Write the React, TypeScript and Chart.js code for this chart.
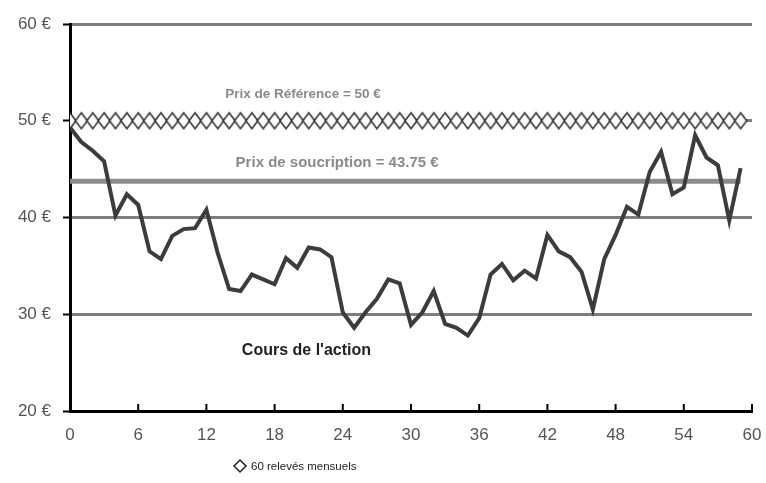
import React, { useEffect, useRef } from "react";
import { Chart, registerables } from "chart.js";

Chart.register(...registerables);

const monthIndex: number[] = Array.from({ length: 60 }, (_, i) => i);
const coursValues: number[] = [
  49.3, 47.8, 46.9, 45.8, 40.2, 42.4, 41.3, 36.5, 35.7, 38.1,
  38.8, 38.9, 40.8, 36.3, 32.6, 32.4, 34.1, 33.6, 33.1, 35.8,
  34.8, 36.9, 36.7, 35.9, 30.2, 28.6, 30.2, 31.6, 33.6, 33.2,
  28.9, 30.2, 32.4, 29.0, 28.6, 27.8, 29.6, 34.1, 35.2, 33.5,
  34.5, 33.7, 38.2, 36.5, 35.9, 34.4, 30.5, 35.7, 38.2, 41.1,
  40.3, 44.7, 46.8, 42.4, 43.1, 48.5, 46.2, 45.4, 39.7, 45.1,
];
const prixReference = 50;
const prixSouscription = 43.75;
const yTicks: number[] = [20, 30, 40, 50, 60];
const xTicks: number[] = [0, 6, 12, 18, 24, 30, 36, 42, 48, 54, 60];

const labelReference = "Prix de Référence = 50 €";
const labelSouscription = "Prix de soucription = 43.75 €";
const labelCours = "Cours de l'action";
const labelLegend = "60 relevés mensuels";

function makeDiamond(w: number, h: number): HTMLCanvasElement {
  const c = document.createElement("canvas");
  c.width = w + 4;
  c.height = h + 4;
  const g = c.getContext("2d")!;
  const cx = c.width / 2;
  const cy = c.height / 2;
  g.beginPath();
  g.moveTo(cx, cy - h / 2);
  g.lineTo(cx + w / 2, cy);
  g.lineTo(cx, cy + h / 2);
  g.lineTo(cx - w / 2, cy);
  g.closePath();
  g.fillStyle = "#ffffff";
  g.fill();
  g.lineWidth = 1.6;
  g.strokeStyle = "#333333";
  g.stroke();
  return c;
}

export default function App() {
  const ref = useRef<HTMLCanvasElement | null>(null);

  useEffect(() => {
    if (!ref.current) return;
    const diamond = makeDiamond(12, 16);

    const annotations = {
      id: "annotations",
      afterDraw(chart: any) {
        const ctx = chart.ctx;
        const xs = chart.scales.x;
        const ys = chart.scales.y;
        ctx.save();
        // inward tick marks on x axis
        ctx.strokeStyle = "#000";
        ctx.lineWidth = 2;
        xTicks.forEach((t) => {
          if (t === 0) return;
          const px = xs.getPixelForValue(t);
          ctx.beginPath();
          ctx.moveTo(px, ys.bottom);
          ctx.lineTo(px, ys.bottom - 7);
          ctx.stroke();
        });
        ctx.textAlign = "center";
        ctx.textBaseline = "middle";
        ctx.font = "bold 13.5px 'Liberation Sans', Arial, sans-serif";
        ctx.fillStyle = "#8a8a8a";
        ctx.fillText(labelReference, xs.getPixelForValue(20.5), ys.getPixelForValue(52.7));
        ctx.font = "bold 15px 'Liberation Sans', Arial, sans-serif";
        ctx.fillText(labelSouscription, xs.getPixelForValue(23.5), ys.getPixelForValue(45.6));
        ctx.font = "bold 16px 'Liberation Sans', Arial, sans-serif";
        ctx.fillStyle = "#222";
        ctx.fillText(labelCours, xs.getPixelForValue(20.8), ys.getPixelForValue(26.2));
        // legend
        const lx = 240;
        const ly = 466;
        ctx.beginPath();
        ctx.moveTo(lx, ly - 6);
        ctx.lineTo(lx + 6, ly);
        ctx.lineTo(lx, ly + 6);
        ctx.lineTo(lx - 6, ly);
        ctx.closePath();
        ctx.fillStyle = "#fff";
        ctx.fill();
        ctx.strokeStyle = "#222";
        ctx.lineWidth = 1.5;
        ctx.stroke();
        ctx.textAlign = "left";
        ctx.font = "11.5px 'Liberation Sans', Arial, sans-serif";
        ctx.fillStyle = "#222";
        ctx.fillText(labelLegend, lx + 11, ly + 1);
        ctx.restore();
      },
    };

    const chart = new Chart(ref.current, {
      type: "line",
      data: {
        datasets: [
          {
            label: labelCours,
            data: monthIndex.map((i) => ({ x: i, y: coursValues[i] })),
            borderColor: "#3c3c3c",
            borderWidth: 4,
            pointRadius: 0,
            tension: 0,
          },
          {
            label: labelLegend,
            data: monthIndex.map((i) => ({ x: i, y: prixReference })),
            showLine: false,
            pointStyle: diamond as any,
            pointRadius: 8,
          },
          {
            label: labelSouscription,
            data: [
              { x: monthIndex[0], y: prixSouscription },
              { x: monthIndex[monthIndex.length - 1], y: prixSouscription },
            ],
            borderColor: "#8c8c8c",
            borderWidth: 5,
            pointRadius: 0,
          },
        ],
      },
      options: {
        animation: false,
        responsive: true,
        maintainAspectRatio: false,
        layout: { padding: { top: 24, right: 14, bottom: 0, left: 0 } },
        plugins: {
          legend: { display: false },
          tooltip: { enabled: false },
        },
        scales: {
          x: {
            type: "linear",
            min: 0,
            max: 60,
            afterBuildTicks: (s: any) => {
              s.ticks = xTicks.map((v) => ({ value: v }));
            },
            afterFit: (s: any) => {
              s.height = 72;
              s.paddingRight = 0;
              s.paddingLeft = 0;
            },
            grid: { display: false, drawTicks: false },
            border: { display: true, color: "#000", width: 3 },
            ticks: {
              padding: 14,
              color: "#555",
              font: { family: "'Liberation Sans', Arial, sans-serif", size: 17 },
              maxRotation: 0,
              autoSkip: false,
            },
          },
          y: {
            type: "linear",
            min: 20,
            max: 60,
            afterBuildTicks: (s: any) => {
              s.ticks = yTicks.map((v) => ({ value: v }));
            },
            afterFit: (s: any) => {
              s.width = 70;
              s.paddingTop = 0;
              s.paddingBottom = 0;
            },
            grid: {
              color: (c: any) => (c.tick && c.tick.value === 20 ? "rgba(0,0,0,0)" : "#7d7d7d"),
              lineWidth: 3,
              drawTicks: true,
              tickLength: 7,
              tickColor: "#000",
              tickWidth: 2,
            },
            border: { display: true, color: "#000", width: 3 },
            ticks: {
              padding: 12,
              color: "#555",
              font: { family: "'Liberation Sans', Arial, sans-serif", size: 17 },
              callback: (v: any) => v + " €",
            },
          },
        },
      },
      plugins: [annotations],
    });
    return () => chart.destroy();
  }, []);

  return (
    <div style={{ position: "fixed", left: 0, top: 0, width: 766, height: 483, background: "#fff" }}>
      <canvas ref={ref} />
    </div>
  );
}
